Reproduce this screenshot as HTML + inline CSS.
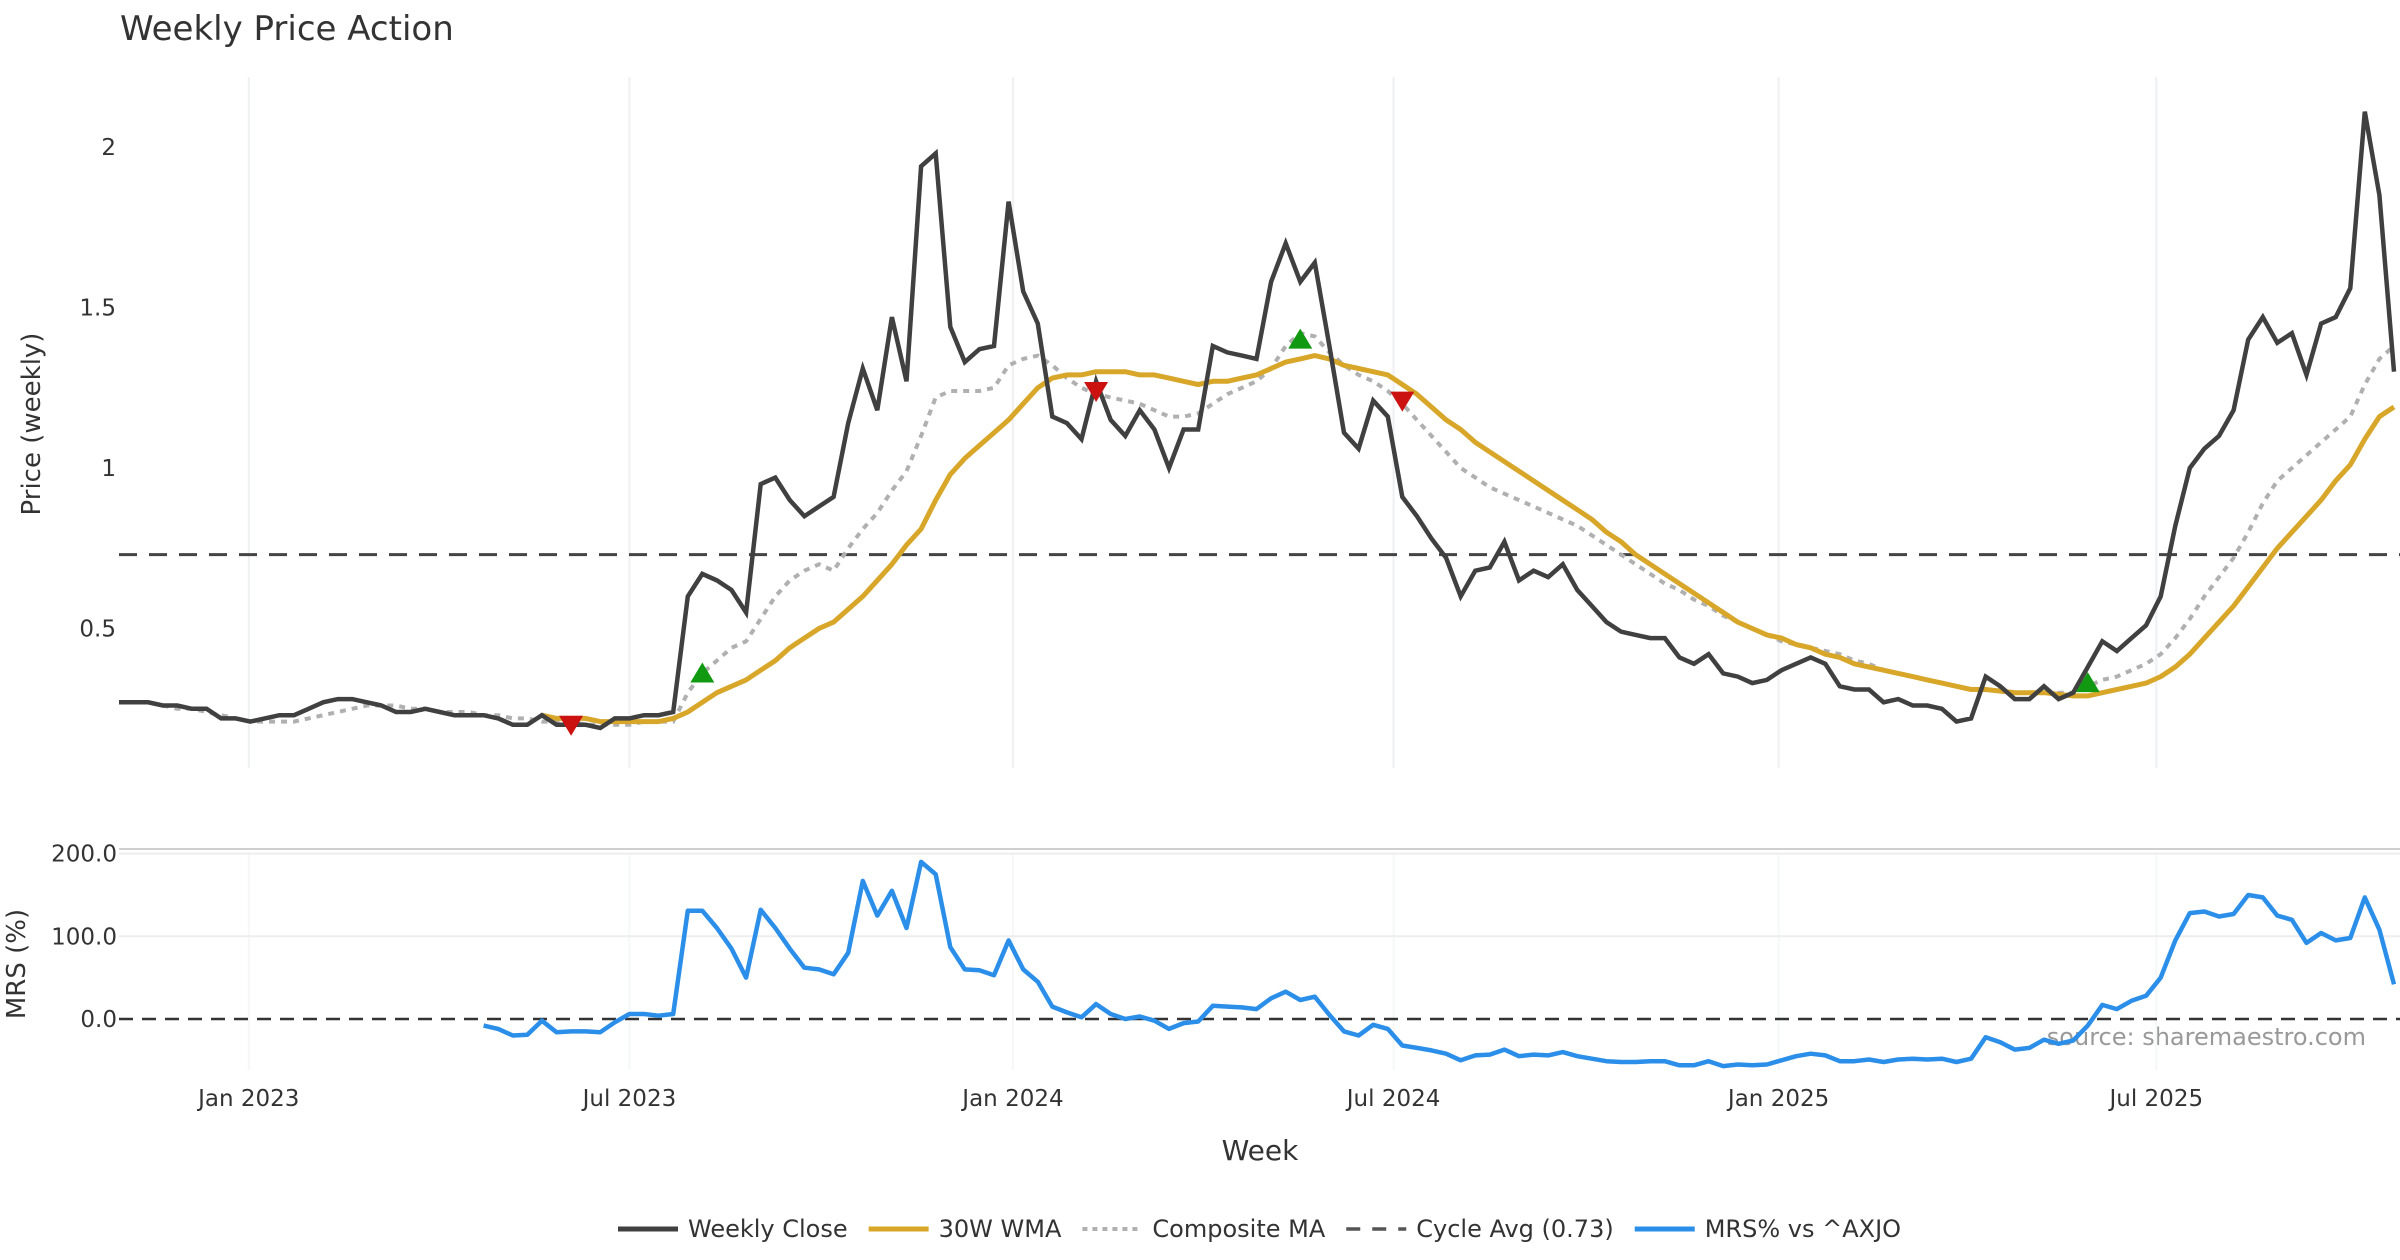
<!DOCTYPE html>
<html><head><meta charset="utf-8"><title>Weekly Price Action</title>
<style>
html,body{margin:0;padding:0;background:#fff;}
body{width:2400px;height:1260px;overflow:hidden;font-family:"DejaVu Sans","Liberation Sans",sans-serif;}
svg{display:block;}
</style></head>
<body>
<svg id="chart" width="2400" height="1260" viewBox="0 0 2400 1260" xmlns="http://www.w3.org/2000/svg" font-family="DejaVu Sans, Liberation Sans, sans-serif">
  <text x="120" y="40" font-size="34" fill="#333">Weekly Price Action</text>
  <text transform="translate(40,424) rotate(-90)" text-anchor="middle" font-size="26" fill="#333">Price (weekly)</text>
  <text transform="translate(25,964) rotate(-90)" text-anchor="middle" font-size="26" fill="#333">MRS (%)</text>
  <text x="1260" y="1160" text-anchor="middle" font-size="28" fill="#333">Week</text>
  <text x="2366" y="1045" text-anchor="end" font-size="24" fill="#999">source: sharemaestro.com</text>
  <g id="grid"></g>
  <g id="series"></g>
  <g id="legend"></g>
</svg>
<script>
const closeVals=[0.27,0.27,0.27,0.26,0.26,0.25,0.25,0.22,0.22,0.21,0.22,0.23,0.23,0.25,0.27,0.28,0.28,0.27,0.26,0.24,0.24,0.25,0.24,0.23,0.23,0.23,0.22,0.2,0.2,0.23,0.2,0.2,0.2,0.19,0.22,0.22,0.23,0.23,0.24,0.6,0.67,0.65,0.62,0.55,0.95,0.97,0.9,0.85,0.88,0.91,1.14,1.31,1.18,1.47,1.27,1.94,1.98,1.44,1.33,1.37,1.38,1.83,1.55,1.45,1.16,1.14,1.09,1.27,1.15,1.1,1.18,1.12,1.0,1.12,1.12,1.38,1.36,1.35,1.34,1.58,1.7,1.58,1.64,1.38,1.11,1.06,1.21,1.16,0.91,0.85,0.78,0.72,0.6,0.68,0.69,0.77,0.65,0.68,0.66,0.7,0.62,0.57,0.52,0.49,0.48,0.47,0.47,0.41,0.39,0.42,0.36,0.35,0.33,0.34,0.37,0.39,0.41,0.39,0.32,0.31,0.31,0.27,0.28,0.26,0.26,0.25,0.21,0.22,0.35,0.32,0.28,0.28,0.32,0.28,0.3,0.38,0.46,0.43,0.47,0.51,0.6,0.82,1.0,1.06,1.1,1.18,1.4,1.47,1.39,1.42,1.29,1.45,1.47,1.56,2.11,1.85,1.3];
const wmaVals=[0.23,0.22,0.22,0.22,0.21,0.21,0.21,0.21,0.21,0.22,0.24,0.27,0.3,0.32,0.34,0.37,0.4,0.44,0.47,0.5,0.52,0.56,0.6,0.65,0.7,0.76,0.81,0.9,0.98,1.03,1.07,1.11,1.15,1.2,1.25,1.28,1.29,1.29,1.3,1.3,1.3,1.29,1.29,1.28,1.27,1.26,1.27,1.27,1.28,1.29,1.31,1.33,1.34,1.35,1.34,1.32,1.31,1.3,1.29,1.26,1.23,1.19,1.15,1.12,1.08,1.05,1.02,0.99,0.96,0.93,0.9,0.87,0.84,0.8,0.77,0.73,0.7,0.67,0.64,0.61,0.58,0.55,0.52,0.5,0.48,0.47,0.45,0.44,0.42,0.41,0.39,0.38,0.37,0.36,0.35,0.34,0.33,0.32,0.31,0.31,0.305,0.3,0.3,0.3,0.295,0.29,0.29,0.3,0.31,0.32,0.33,0.35,0.38,0.42,0.47,0.52,0.57,0.63,0.69,0.75,0.8,0.85,0.9,0.96,1.01,1.09,1.16,1.19];
const compVals=[0.26,0.25,0.25,0.24,0.23,0.22,0.21,0.21,0.21,0.21,0.22,0.23,0.24,0.25,0.26,0.26,0.26,0.25,0.25,0.24,0.24,0.24,0.23,0.23,0.22,0.22,0.21,0.21,0.21,0.2,0.2,0.2,0.2,0.21,0.21,0.21,0.3,0.36,0.4,0.44,0.46,0.53,0.6,0.65,0.68,0.7,0.68,0.75,0.81,0.86,0.93,0.99,1.1,1.22,1.24,1.24,1.24,1.25,1.32,1.34,1.35,1.32,1.28,1.25,1.23,1.22,1.21,1.2,1.18,1.16,1.16,1.17,1.2,1.23,1.25,1.27,1.31,1.38,1.42,1.41,1.36,1.32,1.29,1.27,1.24,1.2,1.15,1.1,1.05,1.0,0.97,0.94,0.92,0.9,0.88,0.86,0.84,0.82,0.79,0.76,0.73,0.7,0.67,0.64,0.62,0.59,0.57,0.54,0.52,0.5,0.48,0.46,0.45,0.44,0.43,0.42,0.4,0.39,0.37,0.36,0.35,0.34,0.33,0.32,0.31,0.31,0.31,0.3,0.3,0.3,0.3,0.3,0.32,0.34,0.35,0.37,0.39,0.42,0.47,0.53,0.6,0.66,0.72,0.8,0.89,0.96,1.0,1.04,1.08,1.12,1.16,1.26,1.34,1.38];
const mrsVals=[-8,-12,-20,-19,-2,-16,-15,-15,-16,-4,6,6,4,6,131,131,110,85,50,132,110,85,62,60,54,80,167,125,155,110,190,175,87,60,59,53,95,60,45,15,8,2,18,6,0,3,-2,-12,-5,-3,16,15,14,12,25,33,23,27,5,-15,-20,-7,-12,-32,-35,-38,-42,-50,-44,-43,-37,-45,-43,-44,-40,-45,-48,-51,-52,-52,-51,-51,-56,-56,-51,-57,-55,-56,-55,-50,-45,-42,-44,-51,-51,-49,-52,-49,-48,-49,-48,-52,-48,-22,-28,-37,-35,-25,-30,-26,-8,17,12,22,28,50,95,128,130,124,127,150,147,125,120,92,104,95,98,147,108,42];
const cycleAvg=0.73;
const buyIdx=[40,81,135];
const buyVals=[0.36,1.4,0.33];
const sellIdx=[31,67,88];
const sellVals=[0.2,1.24,1.21];
const dateTickLabels=["Jan 2023","Jul 2023","Jan 2024","Jul 2024","Jan 2025","Jul 2025"];
const dateTickIdx=[8.9,35,61.3,87.4,113.8,139.7];
const priceTicks=[0.5,1,1.5,2];
const priceTickLabels=["0.5","1","1.5","2"];
const mrsTicks=[0,100,200];
const mrsTickLabels=["0.0","100.0","200.0"];

const NS="http://www.w3.org/2000/svg";
const N=closeVals.length;
const X0=119, X1=2394;
function xs(i){return X0+(X1-X0)*i/(N-1);}
function yp(v){return 789-321*v;}
function ym(v){return 1019-0.827*v;}
function mk(tag,attrs,parent){const e=document.createElementNS(NS,tag);for(const k in attrs)e.setAttribute(k,attrs[k]);parent.appendChild(e);return e;}
const grid=document.getElementById('grid');
const ser=document.getElementById('series');
const leg=document.getElementById('legend');

dateTickIdx.forEach((d,k)=>{
  const x=xs(d);
  const g1=mk('line',{x1:x,x2:x,y1:77,y2:768,stroke:'#eef0f2','stroke-width':2},grid);
  
  
  const g2=mk('line',{x1:x,x2:x,y1:852,y2:1070,stroke:'#f6f7f8','stroke-width':2},grid);
  
  
  const t=mk('text',{x:x,y:1106,'text-anchor':'middle','font-size':23,fill:'#333'},grid);
  t.textContent=dateTickLabels[k];
  
  
});
priceTicks.forEach((v,k)=>{
  const t=mk('text',{x:116,y:yp(v)+8,'text-anchor':'end','font-size':23,fill:'#333'},grid);
  t.textContent=priceTickLabels[k];
  
  
});
const bd=mk('line',{x1:119,x2:2400,y1:849,y2:849,stroke:'#cfcfcf','stroke-width':2},grid);


mrsTicks.forEach((v,k)=>{
  if(v!==0){const gl=mk('line',{x1:119,x2:2400,y1:ym(v),y2:ym(v),stroke:'#eeeeee','stroke-width':2},grid);
  
  }
  const t=mk('text',{x:117,y:ym(v)+8,'text-anchor':'end','font-size':23,fill:'#333'},grid);
  t.textContent=mrsTickLabels[k];
  
  
});
const z=mk('line',{x1:119,x2:2400,y1:ym(0),y2:ym(0),stroke:'#333','stroke-width':2.5,'stroke-dasharray':'14,9'},grid);



function pathFrom(arr,yf){const off=N-arr.length;return arr.map((v,j)=>(j?'L':'M')+xs(j+off).toFixed(1)+','+yf(v).toFixed(1)).join(' ');}

const cyc=mk('line',{x1:119,x2:2400,y1:yp(cycleAvg),y2:yp(cycleAvg),stroke:'#444','stroke-width':3,'stroke-dasharray':'18,12'},ser);


const pc=mk('path',{d:pathFrom(compVals,yp),fill:'none',stroke:'#b0b0b0','stroke-width':4,'stroke-dasharray':'6,6'},ser);


const pw=mk('path',{d:pathFrom(wmaVals,yp),fill:'none',stroke:'#d8a72a','stroke-width':5,'stroke-linejoin':'round'},ser);


const pcl=mk('path',{d:pathFrom(closeVals,yp),fill:'none',stroke:'#404040','stroke-width':4.5,'stroke-linejoin':'miter'},ser);


const pm=mk('path',{d:pathFrom(mrsVals,ym),fill:'none',stroke:'#2b8fea','stroke-width':4.5,'stroke-linejoin':'round'},ser);



buyIdx.forEach((i,k)=>{
  const x=xs(i),y=yp(buyVals[k]);
  const m=mk('polygon',{points:`${x-12},${y+9} ${x+12},${y+9} ${x},${y-11}`,fill:'#119a11'},ser);
  
  
});
sellIdx.forEach((i,k)=>{
  const x=xs(i),y=yp(sellVals[k]);
  const m=mk('polygon',{points:`${x-12},${y-9} ${x+12},${y-9} ${x},${y+11}`,fill:'#cc1111'},ser);
  
  
});

const legItems=[["Weekly Close","#404040","",5],["30W WMA","#d8a72a","",5],["Composite MA","#b0b0b0","5,5",4],["Cycle Avg (0.73)","#555","14,12",3.5],["MRS% vs ^AXJO","#2b8fea","",5]];
let lx=618;
legItems.forEach(it=>{
  const g=mk('g',{},leg);
  
  
  mk('line',{x1:lx,x2:lx+60,y1:1229,y2:1229,stroke:it[1],'stroke-width':it[3],'stroke-dasharray':it[2]},g);
  const t=mk('text',{x:lx+70,y:1237,'font-size':24,fill:'#333'},g);
  t.textContent=it[0];
  lx+=70+t.getComputedTextLength()+21;
});
</script>
</body></html>
